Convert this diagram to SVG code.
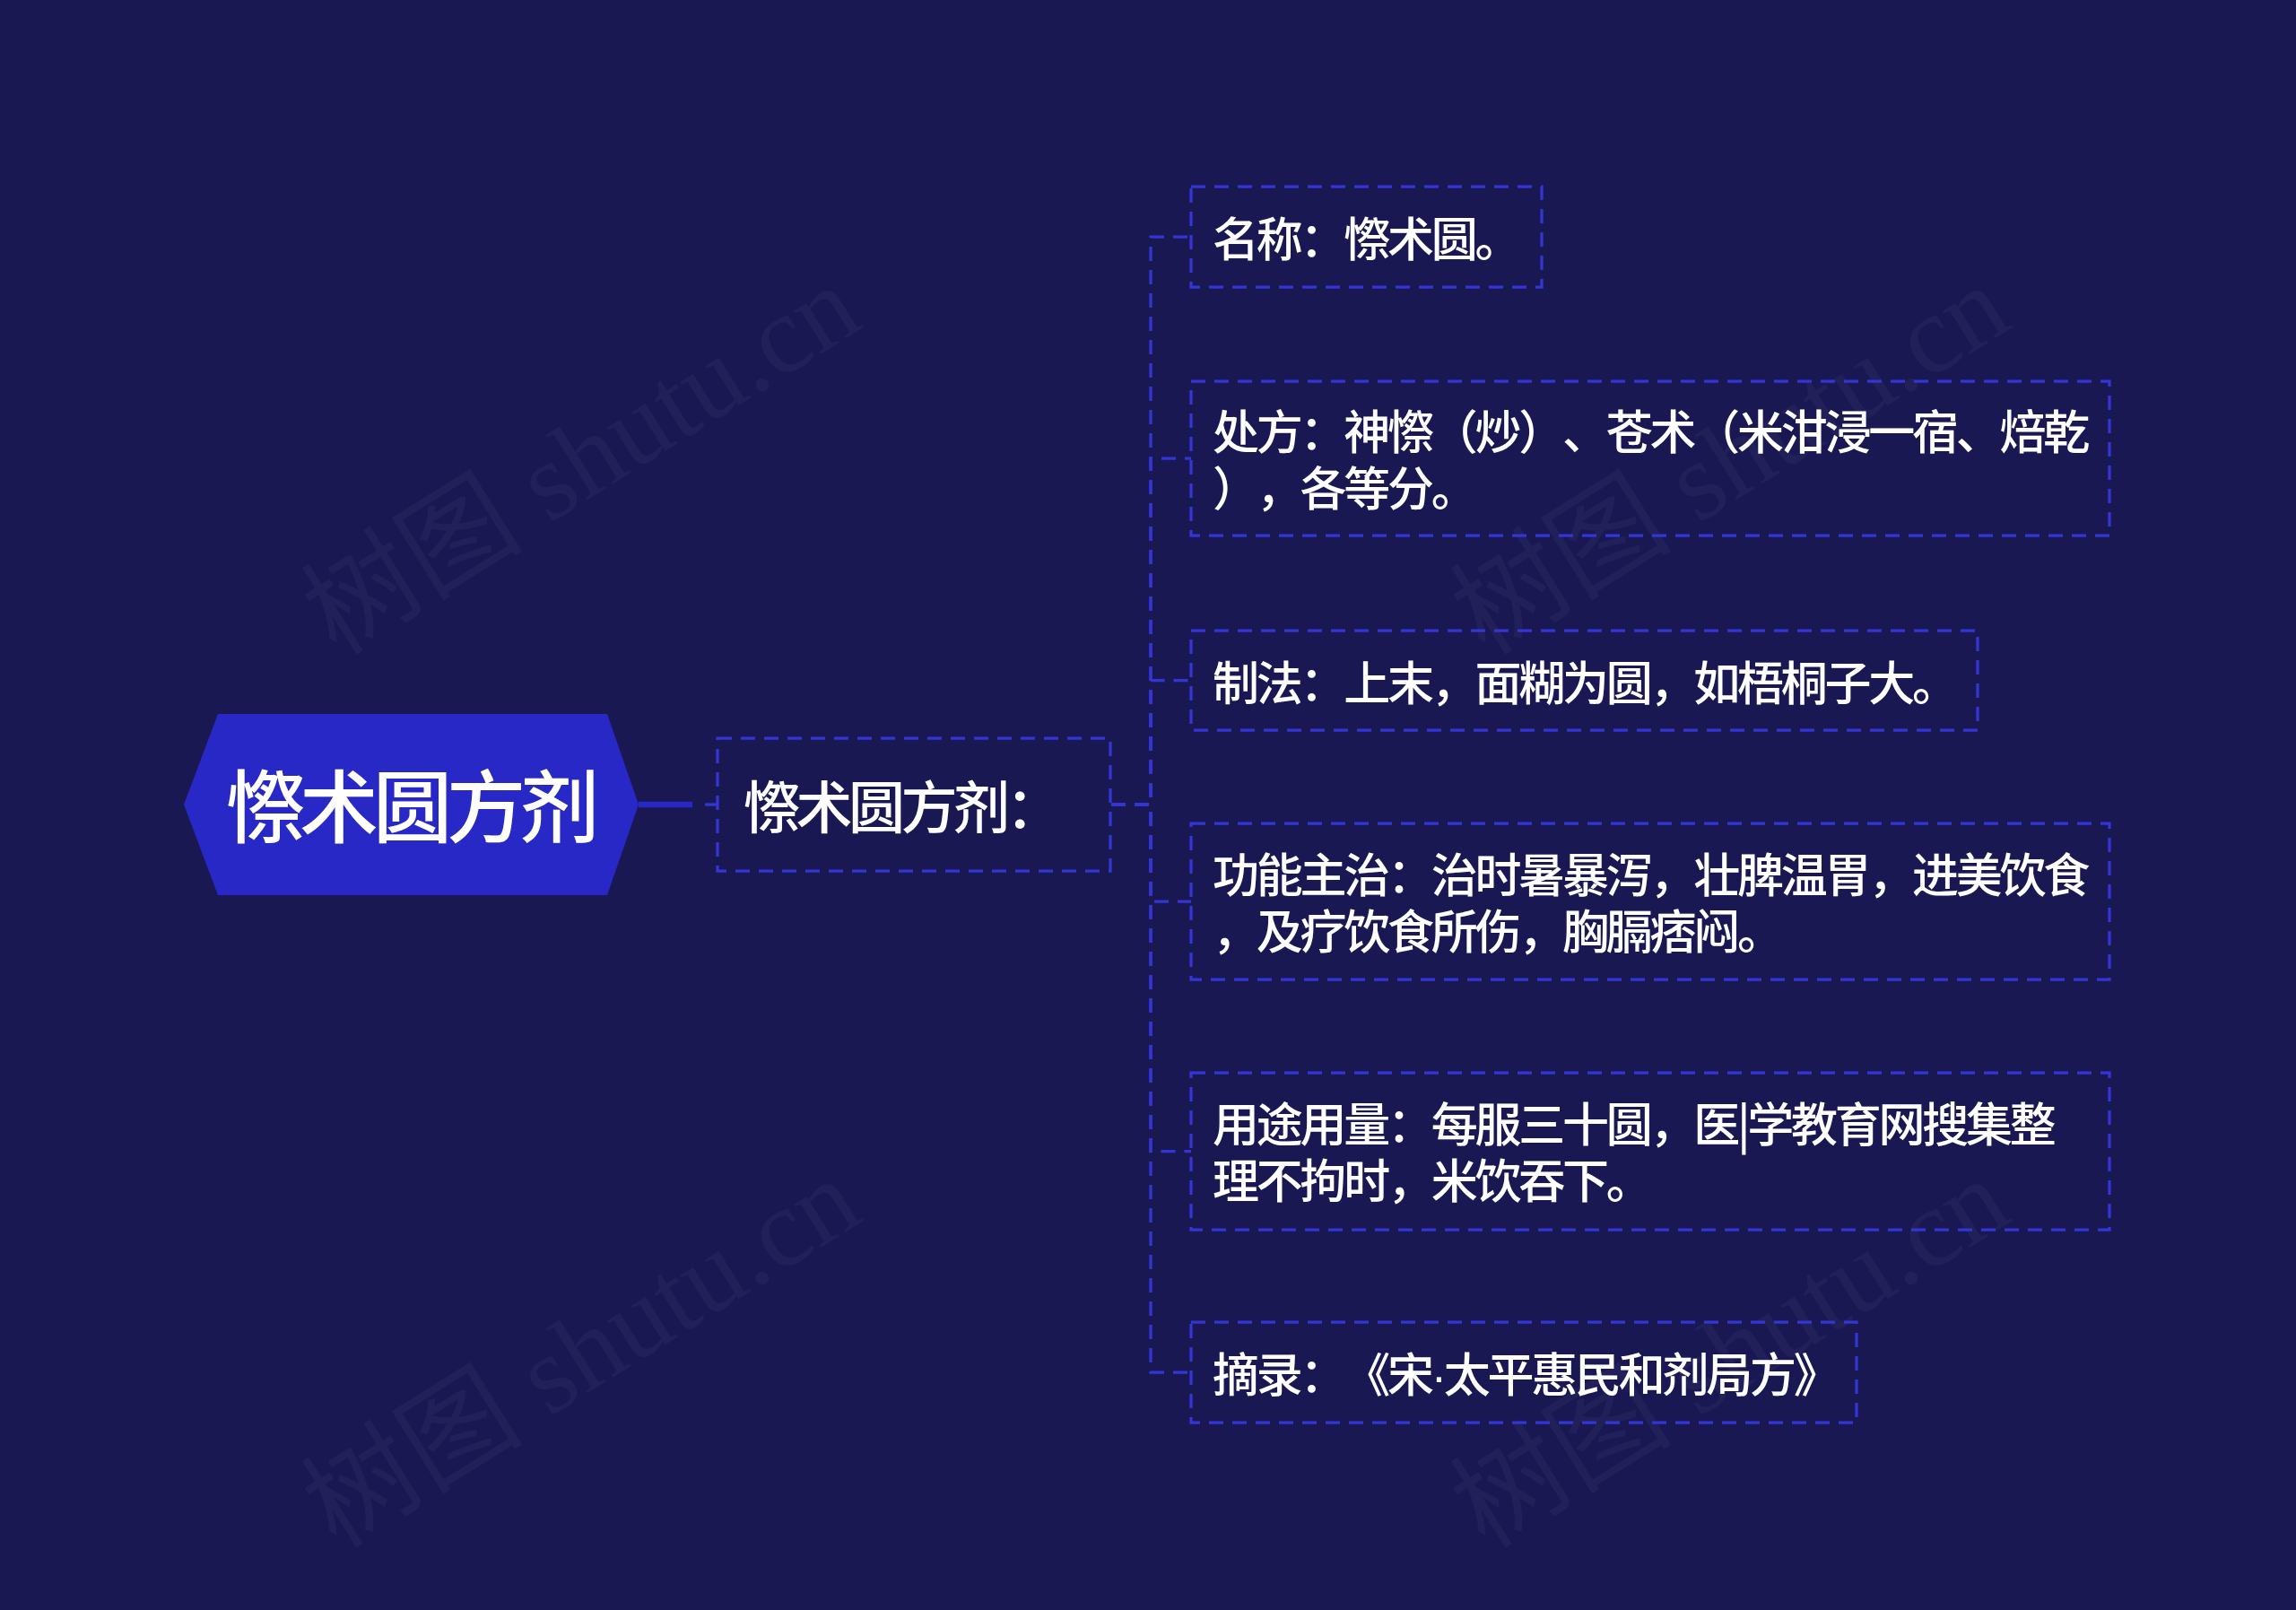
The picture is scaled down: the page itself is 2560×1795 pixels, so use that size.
<svg xmlns="http://www.w3.org/2000/svg" width="2560" height="1795" viewBox="0 0 2560 1795">
  <style>
    .bg { fill: #191852; }
    .wm { font-family: "Liberation Serif", "Noto Sans CJK SC", serif; font-size: 124px; fill: #ffffff; fill-opacity: 0.035; text-anchor: middle; }
    .conn { fill: none; stroke: #3535d5; stroke-width: 3.25; stroke-dasharray: 16 10; }
    .thick { fill: none; stroke: #2828c6; stroke-width: 6.5; }
    .box { fill: none; stroke: #3535d5; stroke-width: 3.25; stroke-dasharray: 16 10; }
    .root { fill: #2828c6; }
    .t { font-family: "Noto Sans CJK SC", "Noto Sans", sans-serif; fill: #ffffff; font-weight: 500; text-spacing-trim: space-all; }
    .t-root { font-size: 88px; letter-spacing: -6px; text-anchor: middle; }
    .t-child { font-size: 63px; letter-spacing: -4.5px; }
    .t-leaf { font-size: 52px; letter-spacing: -3.25px; }
    .dot { font-family: "Liberation Sans", sans-serif; }
  </style>
  <rect class="bg" x="0" y="0" width="2560" height="1795"/>

  <g id="watermarks">
    <text class="wm" transform="translate(649,514) rotate(-32)" y="40">树图 shutu.cn</text>
    <text class="wm" transform="translate(1930,514) rotate(-32)" y="40">树图 shutu.cn</text>
    <text class="wm" transform="translate(649,1510) rotate(-32)" y="40">树图 shutu.cn</text>
    <text class="wm" transform="translate(1930,1510) rotate(-32)" y="40">树图 shutu.cn</text>
  </g>

  <g id="connectors">
    <path class="thick" d="M712,897 H772"/>
    <path class="conn" d="M786,897 H800"/>
    <path class="conn" d="M1239,897 H1283 V264 H1328"/>
    <path class="conn" d="M1239,897 H1283 V511 H1328"/>
    <path class="conn" d="M1239,897 H1283 V758.5 H1328"/>
    <path class="conn" d="M1239,897 H1283 V1005 H1328"/>
    <path class="conn" d="M1239,897 H1283 V1283.5 H1328"/>
    <path class="conn" d="M1239,897 H1283 V1530 H1328"/>
  </g>

  <g id="root">
    <polygon class="root" points="205,897 243,796 677,796 712,897 677,998 243,998"/>
    <text class="t t-root" x="457" y="932">憏术圆方剂</text>
  </g>

  <g id="child">
    <rect class="box" x="800" y="823" width="438" height="148"/>
    <text class="t t-child" x="829" y="923">憏术圆方剂：</text>
  </g>

  <g id="leaf1">
    <rect class="box" x="1328" y="208" width="391" height="112"/>
    <text class="t t-leaf" x="1352" y="286">名称：憏术圆。</text>
  </g>

  <g id="leaf2">
    <rect class="box" x="1328" y="425" width="1024" height="172"/>
    <text class="t t-leaf"><tspan x="1352" y="501">处方：神憏（炒）、苍术（米泔浸一宿、焙乾</tspan><tspan x="1352" y="564">），各等分。</tspan></text>
  </g>

  <g id="leaf3">
    <rect class="box" x="1328" y="703" width="877" height="111"/>
    <text class="t t-leaf" x="1352" y="780.5">制法：上末，面糊为圆，如梧桐子大。</text>
  </g>

  <g id="leaf4">
    <rect class="box" x="1328" y="918" width="1024" height="174"/>
    <text class="t t-leaf"><tspan x="1352" y="994.5">功能主治：治时暑暴泻，壮脾温胃，进美饮食</tspan><tspan x="1352" y="1057.5">，及疗饮食所伤，胸膈痞闷。</tspan></text>
  </g>

  <g id="leaf5">
    <rect class="box" x="1328" y="1196" width="1024" height="175"/>
    <text class="t t-leaf"><tspan x="1352" y="1273">用途用量：每服三十圆，医|学教育网搜集整</tspan><tspan x="1352" y="1336">理不拘时，米饮吞下。</tspan></text>
  </g>

  <g id="leaf6">
    <rect class="box" x="1328" y="1474" width="742" height="112"/>
    <text class="t t-leaf" x="1352" y="1552">摘录：《宋<tspan class="dot">·</tspan>太平惠民和剂局方》</text>
  </g>
</svg>
